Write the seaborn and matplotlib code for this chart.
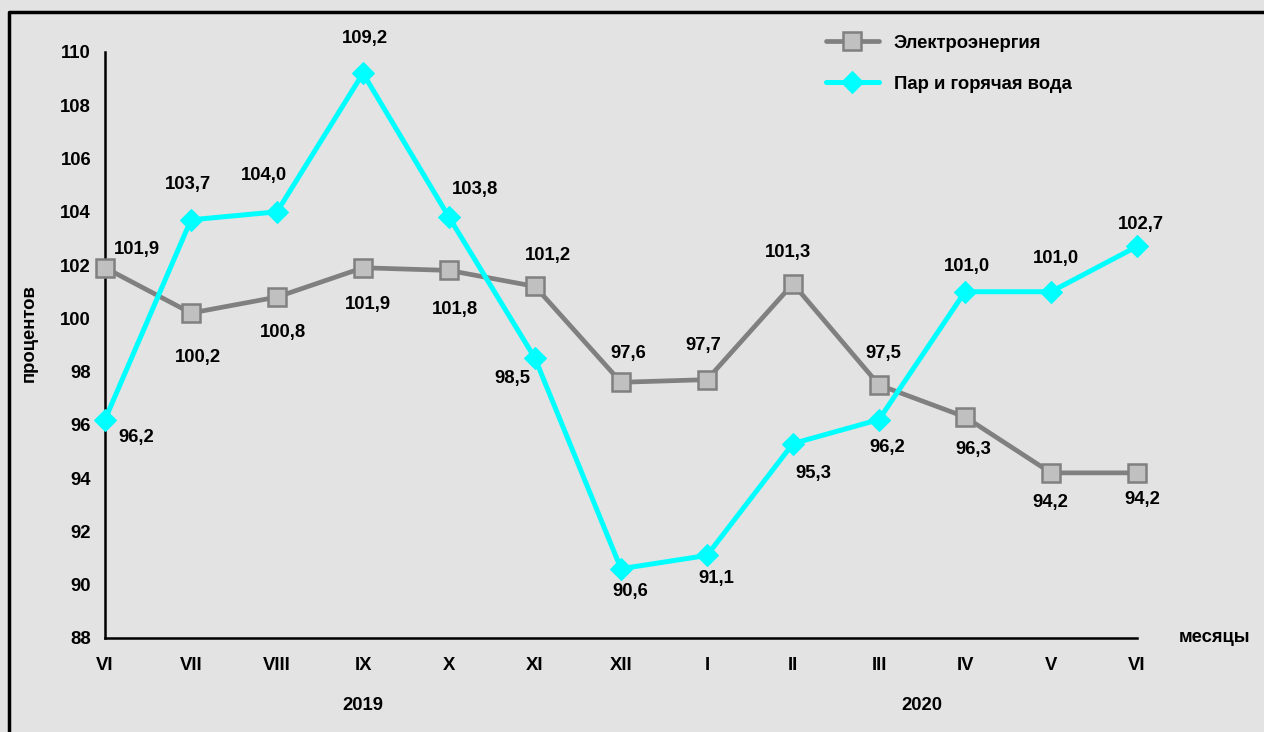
import matplotlib
matplotlib.use("Agg")
import matplotlib.pyplot as plt
from matplotlib.lines import Line2D
import seaborn as sns
import pandas as pd
import numpy as np

# data
months = ["VI", "VII", "VIII", "IX", "X", "XI", "XII", "I", "II", "III", "IV", "V", "VI"]
electricity = [101.9, 100.2, 100.8, 101.9, 101.8, 101.2, 97.6, 97.7, 101.3, 97.5, 96.3, 94.2, 94.2]
steam = [96.2, 103.7, 104.0, 109.2, 103.8, 98.5, 90.6, 91.1, 95.3, 96.2, 101.0, 101.0, 102.7]
years = ["2019", "2020"]
year_centers = [3, 9.5]

# label offsets in pixels (dx, dy), dy up positive
elec_off = [(32, 18), (7, -44), (6, -35), (5, -37), (6, -39), (13, 31), (7, 29),
            (-4, 34), (-5, 31), (4, 31), (8, -33), (-1, -30), (5, -27)]
steam_off = [(31, -18), (-3, 35), (-13, 36), (2, 35), (26, 28), (-23, -20), (9, -23),
             (9, -23), (20, -30), (8, -28), (2, 25), (5, 33), (4, 22)]

df = pd.DataFrame({"pos": np.arange(len(months)), "elec": electricity, "steam": steam})

sns.set_theme(style="white")
plt.rcParams["font.family"] = ["Liberation Sans", "DejaVu Sans"]
plt.rcParams["font.weight"] = "bold"
plt.rcParams["text.color"] = "black"
plt.rcParams["xtick.color"] = "black"
plt.rcParams["ytick.color"] = "black"
plt.rcParams["axes.labelcolor"] = "black"

bg = "#e3e3e3"
fig = plt.figure(figsize=(12.64, 7.32), dpi=100, facecolor=bg, edgecolor=bg,
                 linewidth=0)
ax = fig.add_axes([105 / 1264, 1 - 638 / 732, (1137 - 105) / 1264, (638 - 52) / 732])
ax.set_facecolor(bg)

sns.lineplot(data=df, x="pos", y="elec", ax=ax, color="#808080", linewidth=3.4,
             marker="s", markersize=13, markerfacecolor="#c0c0c0",
             markeredgecolor="#808080", markeredgewidth=1.8, label="Электроэнергия",
             clip_on=False, zorder=3)
sns.lineplot(data=df, x="pos", y="steam", ax=ax, color="#00ffff", linewidth=3.6,
             marker="D", markersize=11, markerfacecolor="#00ffff",
             markeredgecolor="#00ffff", label="Пар и горячая вода",
             clip_on=False, zorder=4)

fs = 13.3
for i, v in enumerate(electricity):
    ax.annotate(f"{v:.1f}".replace(".", ","), (i, v), xytext=elec_off[i],
                textcoords="offset pixels", ha="center", va="center",
                fontsize=fs, fontweight="bold", color="black")
for i, v in enumerate(steam):
    ax.annotate(f"{v:.1f}".replace(".", ","), (i, v), xytext=steam_off[i],
                textcoords="offset pixels", ha="center", va="center",
                fontsize=fs, fontweight="bold", color="black")

ax.set_xlim(0, len(months) - 1)
ax.set_ylim(88, 110)
ax.set_yticks(range(88, 111, 2))
ax.set_xticks(range(len(months)))
ax.set_xticklabels(months)
ax.tick_params(axis="y", direction="out", length=5, width=1.8, labelsize=fs, pad=5,
               colors="black")
ax.tick_params(axis="x", direction="in", length=5, width=1.8, labelsize=fs, pad=14,
               colors="black")
for lab in ax.get_xticklabels() + ax.get_yticklabels():
    lab.set_fontweight("bold")
for s in ["top", "right"]:
    ax.spines[s].set_visible(False)
for s in ["left", "bottom"]:
    ax.spines[s].set_color("black")
    ax.spines[s].set_linewidth(1.8)
ax.set_xlabel("")
ax.set_ylabel("процентов", fontsize=fs, fontweight="bold", color="black")
ax.yaxis.set_label_coords(-0.065, 0.52)

ax.text(1.04, 0.0, "месяцы", transform=ax.transAxes, fontsize=fs, fontweight="bold",
        ha="left", va="center", color="black")
for c, y in zip(year_centers, years):
    ax.annotate(y, (c, 88), xytext=(0, -67), textcoords="offset pixels",
                ha="center", va="center", fontsize=fs, fontweight="bold",
                color="black", annotation_clip=False)

leg = ax.legend(loc="upper left", bbox_to_anchor=(809 / 1264, 1 - 18 / 732),
                bbox_transform=fig.transFigure, frameon=False, fontsize=fs,
                handlelength=2.9, labelspacing=1.3, handletextpad=0.8)
for t in leg.get_texts():
    t.set_fontweight("bold")
    t.set_color("black")

# outer frame: left and top edges only
x0 = 9 / 1264
y0 = 1 - 12 / 732
fig.add_artist(Line2D([x0, x0, 1.02], [-0.02, y0, y0], transform=fig.transFigure,
                      color="black", linewidth=2.5, solid_capstyle="butt"))

fig.savefig("out.png", dpi=100, facecolor=bg, edgecolor=bg)
